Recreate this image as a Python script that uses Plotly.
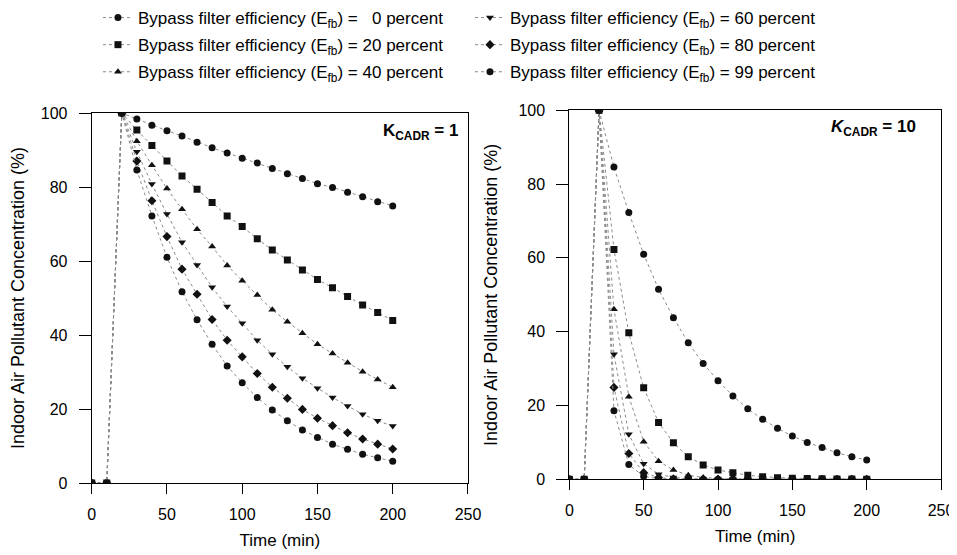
import plotly.graph_objects as go

# ---------------- data ----------------
time_min = [0, 10, 20, 30, 40, 50, 60, 70, 80, 90, 100, 110, 120, 130, 140, 150, 160, 170, 180, 190, 200]

efficiency_labels = ["\u20070", "20", "40", "60", "80", "99"]

# K_CADR = 1
k1_e0 = [0, 0, 100, 98.4, 96.7, 95.2, 93.8, 92.1, 90.6, 89.2, 87.8, 86.5, 85.0, 83.6, 82.3, 80.9, 79.9, 78.6, 77.4, 76.0, 74.9]
k1_e20 = [0, 0, 100, 95.4, 91.2, 87.0, 83.0, 79.4, 75.8, 72.2, 69.3, 66.0, 63.0, 60.3, 57.6, 55.0, 52.8, 50.4, 48.1, 46.1, 43.9]
k1_e40 = [0, 0, 100, 92.4, 85.9, 79.6, 74.0, 68.6, 63.9, 58.8, 54.7, 50.8, 46.8, 43.6, 40.5, 37.5, 35.0, 32.5, 30.1, 28.0, 25.9]
k1_e60 = [0, 0, 100, 89.5, 80.8, 72.7, 65.1, 58.9, 52.9, 47.7, 43.2, 38.6, 34.8, 31.4, 28.3, 25.6, 23.1, 20.8, 18.6, 16.8, 15.4]
k1_e80 = [0, 0, 100, 87.0, 76.3, 66.6, 57.8, 51.0, 44.2, 38.6, 34.1, 29.6, 25.9, 22.9, 19.9, 17.5, 15.5, 13.6, 11.9, 10.5, 9.2]
k1_e99 = [0, 0, 100, 84.6, 72.2, 61.0, 51.7, 44.1, 37.5, 31.6, 27.1, 23.1, 19.7, 16.8, 14.3, 12.3, 10.5, 9.1, 7.8, 6.8, 5.9]

# K_CADR = 10
k10_e0 = [0, 0, 100, 84.6, 72.3, 61.0, 51.5, 43.8, 37.0, 31.4, 26.7, 22.6, 19.1, 16.3, 13.8, 11.7, 10.0, 8.6, 7.2, 6.1, 5.2]
k10_e20 = [0, 0, 100, 62.3, 39.7, 24.8, 15.4, 9.9, 6.1, 3.9, 2.5, 1.8, 1.1, 0.7, 0.45, 0.3, 0.2, 0.12, 0.08, 0.05, 0.03]
k10_e40 = [0, 0, 100, 46.1, 22.4, 10.2, 4.9, 2.5, 1.1, 0.5, 0.25, 0.12, 0.06, 0.03, 0.01, 0.01, 0, 0, 0, 0, 0]
k10_e60 = [0, 0, 100, 33.9, 12.2, 4.2, 1.4, 0.5, 0.17, 0.06, 0.02, 0.01, 0, 0, 0, 0, 0, 0, 0, 0, 0]
k10_e80 = [0, 0, 100, 24.9, 7.0, 1.8, 0.45, 0.11, 0.03, 0.01, 0, 0, 0, 0, 0, 0, 0, 0, 0, 0, 0]
k10_e99 = [0, 0, 100, 18.6, 4.0, 0.8, 0.15, 0.03, 0.01, 0, 0, 0, 0, 0, 0, 0, 0, 0, 0, 0, 0]

k1_series = [k1_e0, k1_e20, k1_e40, k1_e60, k1_e80, k1_e99]
k10_series = [k10_e0, k10_e20, k10_e40, k10_e60, k10_e80, k10_e99]

x_ticks = [0, 50, 100, 150, 200, 250]
y_ticks = [0, 20, 40, 60, 80, 100]

# ---------------- style ----------------
symbols = ["circle", "square", "triangle-up", "triangle-down", "diamond", "circle"]
sizes = [7, 7, 7, 7, 7, 7]
FONT = "Liberation Sans, Arial, sans-serif"

# the page shows the figure with an 8 px body margin, so the figure is
# sized to fill the remaining viewport
W, H = 949, 547

fig = go.Figure()

for i, lab in enumerate(efficiency_labels):
    name = f"Bypass filter efficiency (E<sub>fb</sub>) = {lab} percent"
    leg = "legend" if i < 3 else "legend2"
    common = dict(
        mode="lines+markers",
        line=dict(color="#8a8a8a", width=1, dash="dot"),
        marker=dict(symbol=symbols[i], size=sizes[i], color="#111111"),
    )
    fig.add_trace(go.Scatter(x=time_min, y=k1_series[i], name=name, legend=leg,
                             legendgroup=str(i), xaxis="x", yaxis="y", **common))
    fig.add_trace(go.Scatter(x=time_min, y=k10_series[i], name=name, legend=leg,
                             legendgroup=str(i), showlegend=False,
                             xaxis="x2", yaxis="y2", **common))

axis_common = dict(
    range=[0, 250],
    tickvals=x_ticks,
    ticks="outside",
    ticklen=10,
    tickwidth=1,
    tickcolor="black",
    showline=True,
    linecolor="black",
    linewidth=1,
    mirror=True,
    showgrid=False,
    zeroline=False,
    automargin=False,
    tickfont=dict(family=FONT, size=16, color="black"),
    ticklabelstandoff=7,
)
yaxis_common = dict(
    range=[0, 100],
    tickvals=y_ticks,
    ticks="outside",
    ticklen=12,
    tickwidth=1,
    tickcolor="black",
    showline=True,
    linecolor="black",
    linewidth=1,
    mirror=True,
    showgrid=False,
    zeroline=False,
    automargin=False,
    tickfont=dict(family=FONT, size=16, color="black"),
    ticklabelstandoff=8,
)

xtitle = dict(text="Time (min)", font=dict(family=FONT, size=17, color="black"), standoff=11)
ytitle = dict(text="Indoor Air Pollutant Concentration (%)",
              font=dict(family=FONT, size=18, color="black"), standoff=16)

fig.update_layout(
    template="none",
    width=W,
    height=H,
    margin=dict(l=0, r=0, t=0, b=0, autoexpand=False),
    paper_bgcolor="white",
    plot_bgcolor="white",
    font=dict(family=FONT, size=16, color="black"),
    xaxis=dict(domain=[0.0882, 0.4847], anchor="y", title=xtitle, **axis_common),
    yaxis=dict(domain=[0.1316, 0.8080], anchor="x", title=ytitle, **yaxis_common),
    xaxis2=dict(domain=[0.5915, 0.9832], anchor="y2", title=xtitle, **axis_common),
    yaxis2=dict(domain=[0.1384, 0.8130], anchor="x2", title=ytitle, **yaxis_common),
    legend=dict(x=0.0948, y=1.0146, xanchor="left", yanchor="top",
                bgcolor="rgba(0,0,0,0)", borderwidth=0,
                font=dict(family=FONT, size=17, color="black"),
                tracegroupgap=2, itemwidth=30),
    legend2=dict(x=0.4868, y=1.0146, xanchor="left", yanchor="top",
                 bgcolor="rgba(0,0,0,0)", borderwidth=0,
                 font=dict(family=FONT, size=17, color="black"),
                 tracegroupgap=2, itemwidth=30),
    annotations=[
        dict(text="<b>K<sub>CADR</sub> = 1</b>", xref="paper", yref="paper",
             x=0.4763, y=0.7733, xanchor="right", yanchor="middle", showarrow=False,
             font=dict(family=FONT, size=17, color="black")),
        dict(text="<b><i>K</i><sub>CADR</sub> = 10</b>", xref="paper", yref="paper",
             x=0.9589, y=0.7806, xanchor="right", yanchor="middle", showarrow=False,
             font=dict(family=FONT, size=17, color="black")),
    ],
)

fig.write_html("out.html")
